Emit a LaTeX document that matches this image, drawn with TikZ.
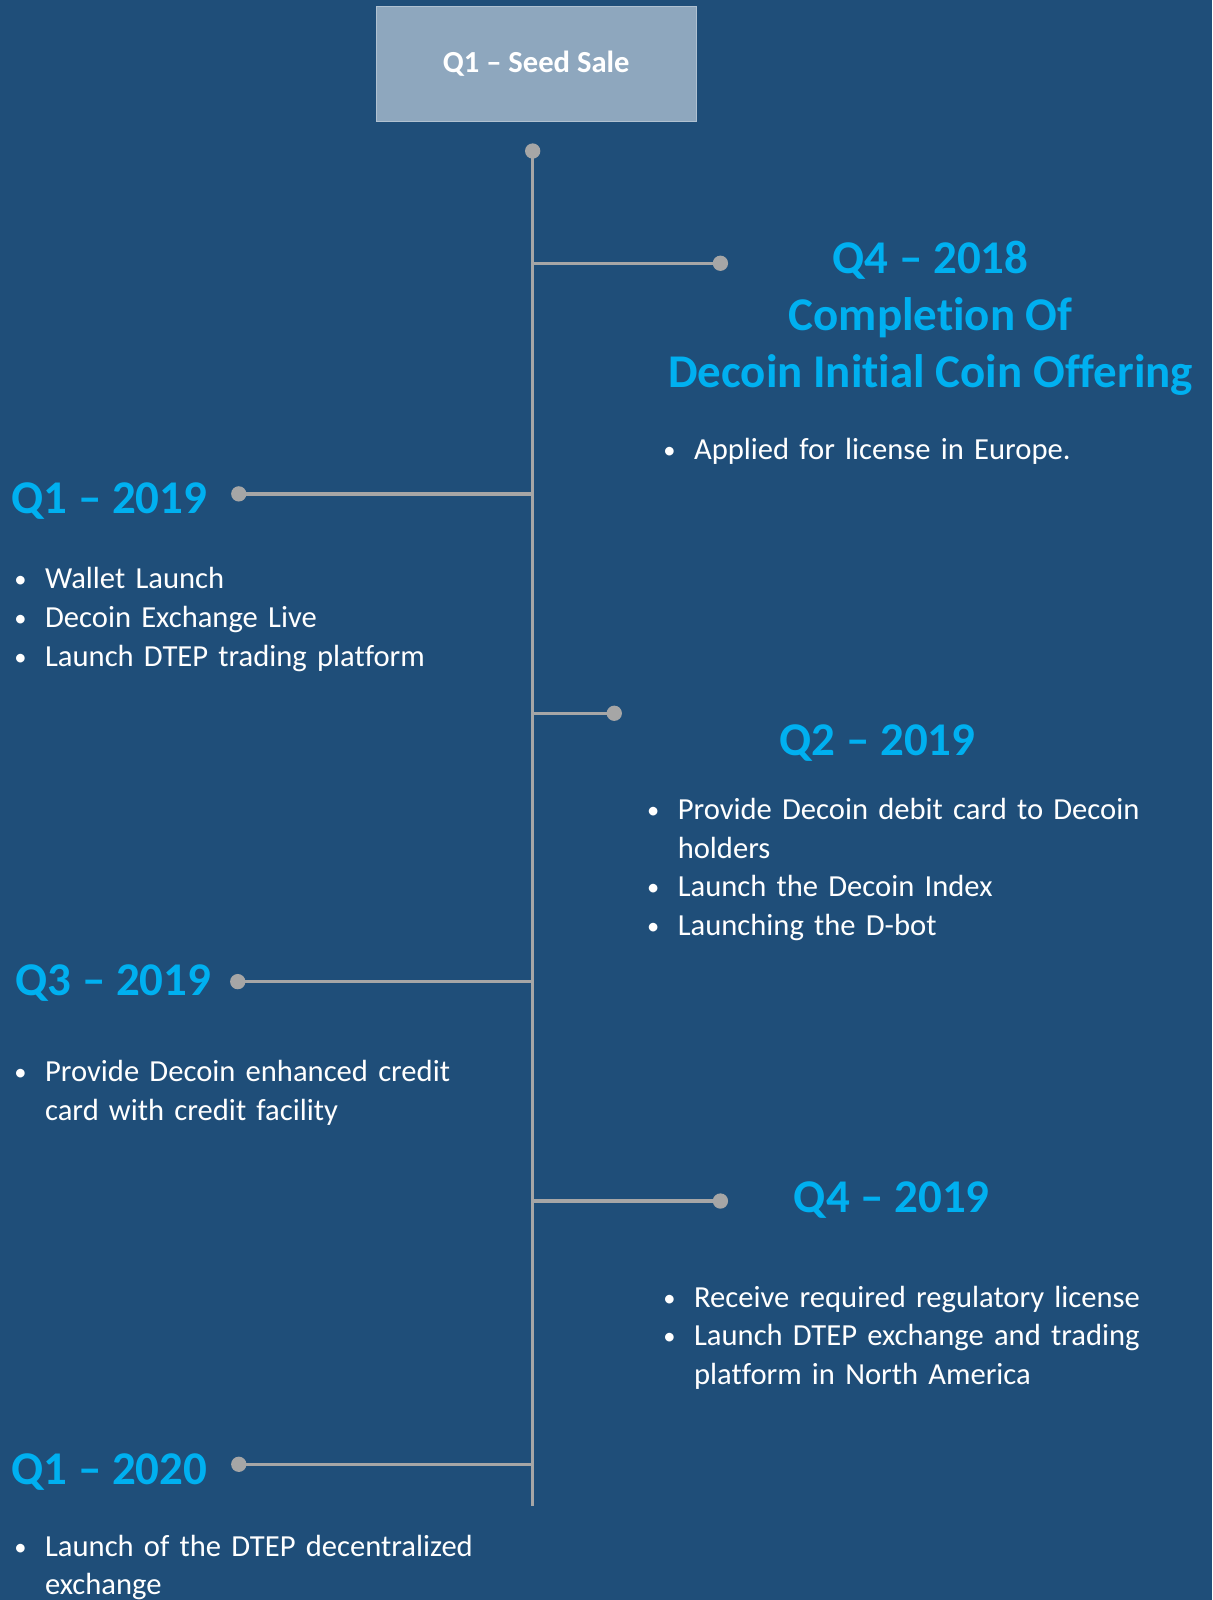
\documentclass[tikz,border=0pt]{standalone}
\usepackage{fontspec}
\setmainfont{Carlito}[Ligatures={NoCommon,NoContextual,NoRare}]
\usetikzlibrary{positioning}
\definecolor{bg_blue}{HTML}{1F4E79}
\definecolor{head_blue}{HTML}{00B0F0}
\definecolor{box_grey}{HTML}{8EA7BE}
\definecolor{line_grey}{HTML}{A6A6A6}
\newcommand{\bitem}[1]{\hangindent=30pt\hangafter=1\noindent\makebox[30pt][l]{\raisebox{1pt}{\scalebox{0.8}{\textbullet}}}#1\par}
\tikzset{
        % Seed sale box
        node_seed/.style={rectangle, fill=box_grey, draw=box_grey!70!white, minimum width=313pt, minimum height=113pt, text=white, font=\fontsize{30}{36}\selectfont\bfseries},
        % Dots at the ends of the branches
        node_dot/.style={circle, fill=line_grey, inner sep=0pt, minimum size=15pt},
        % Milestone headings
        node_head/.style={inner sep=0pt, text=head_blue, font=\fontsize{46}{56}\selectfont\bfseries, align=center},
        % Bullet lists
        node_list/.style={inner sep=0pt, text=white, text width=600pt, font=\fontsize{30}{38}\selectfont},
        % Spine and branches
        line_tl/.style={draw=line_grey, line width=3.2pt}
}
\begin{document}
\begin{tikzpicture}[x=1pt, y=-1pt]
    \fill[bg_blue] (0,0) rectangle (1188,1568);
    \useasboundingbox (0,0) rectangle (1188,1568);
    \node[node_seed] (seed) at (525.5,62.5) {Q1 – Seed Sale};
    \node[node_dot] (top) at (522,148) {};
    \coordinate (spine_end) at (522,1476);
    \draw[line_tl] (top.center) -- (spine_end);
    \foreach \name/\y/\x in {q4a/258/706, q1a/484/234, q2a/699/602, q3a/962/233, q4b/1177/706, q1b/1435/234} {
        \coordinate (s_\name) at (522,\y);
        \node[node_dot] (d_\name) at (\x,\y) {};
        \draw[line_tl] (s_\name) -- (d_\name.center);
    }
    % Headings
    \node[node_head, anchor=north] (h_q4a) at (912,236) {Q4 – 2018\\Complet\kern0pt ion Of\\Decoin Init\kern0pt ial Coin Offering};
    \node[node_head, anchor=base west] (h_q1a) at (11,503) {Q1 – 2019};
    \node[node_head, anchor=base] (h_q2a) at (860,740) {Q2 – 2019};
    \node[node_head, anchor=base west] (h_q3a) at (15,976) {Q3 – 2019};
    \node[node_head, anchor=base] (h_q4b) at (874,1188) {Q4 – 2019};
    \node[node_head, anchor=base west] (h_q1b) at (11,1455) {Q1 – 2020};
    % Lists
    \node[node_list, anchor=base west] (l_q4a) at (650,450) {\bitem{Applied for license in Europe.}};
    \node[node_list, anchor=base west] (l_q1a) at (14,577) {\bitem{Wallet Launch}\bitem{Decoin Exchange Live}\bitem{Launch DTEP trading platform}};
    \node[node_list, anchor=base west] (l_q2a) at (634,803) {\bitem{Provide Decoin debit card to Decoin\hfill\break holders}\bitem{Launch the Decoin Index}\bitem{Launching the D-bot}};
    \node[node_list, anchor=base west] (l_q3a) at (14,1060) {\bitem{Provide Decoin enhanced credit\hfill\break card with credit facility}};
    \node[node_list, anchor=base west] (l_q4b) at (650,1281) {\bitem{Receive required regulatory license}\bitem{Launch DTEP exchange and trading\hfill\break platform in North America}};
    \node[node_list, anchor=base west] (l_q1b) at (14,1525) {\bitem{Launch of the DTEP decentralized\hfill\break exchange}};
\end{tikzpicture}
\end{document}
